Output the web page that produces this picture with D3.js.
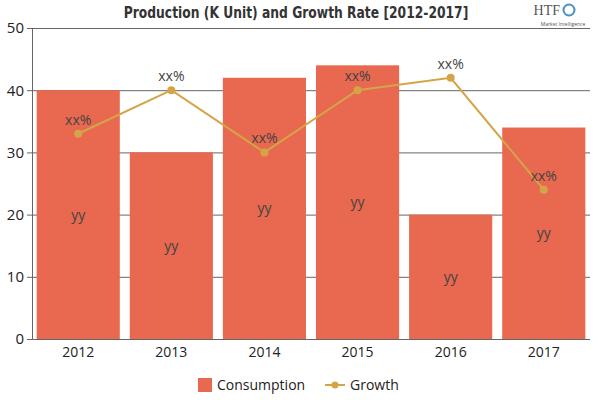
<!DOCTYPE html>
<html>
<head>
<meta charset="utf-8">
<style>
  body { margin: 0; background: #fff; }
  svg text { font-family: "Open Sans", "DejaVu Sans", sans-serif; }
</style>
</head>
<body>
<svg width="600" height="400"></svg>
<script src="https://d3js.org/d3.v7.min.js"></script>
<script>
// chart data
var years = ["2012", "2013", "2014", "2015", "2016", "2017"];
var consumption = [40, 30, 42, 44, 20, 34];
var growth = [33, 40, 30, 40, 42, 24];
var barLabels = ["yy", "yy", "yy", "yy", "yy", "yy"];
var growthLabels = ["xx%", "xx%", "xx%", "xx%", "xx%", "xx%"];
var yTicks = [0, 10, 20, 30, 40, 50];

var svg = d3.select("svg"),
    margin = {top: 28, right: 10, bottom: 61, left: 32},
    width = 600 - margin.left - margin.right,
    height = 400 - margin.top - margin.bottom,
    g = svg.append("g").attr("transform", "translate(" + margin.left + "," + margin.top + ")");

var barColor = "#e8694f", lineColor = "#d4a548";

var x = d3.scaleBand().domain(years).range([0, width]).paddingInner(0.107).paddingOuter(0.05);
var y = d3.scaleLinear().domain([0, 50]).range([height, 0]);

// gridlines
g.selectAll(".grid").data(yTicks.slice(1)).enter().append("line")
    .attr("x1", 0).attr("x2", width)
    .attr("y1", function(d) { return y(d) + 0.5; })
    .attr("y2", function(d) { return y(d) + 0.5; })
    .attr("stroke", "#666").attr("stroke-width", 1);

// bars
g.selectAll(".bar").data(consumption).enter().append("rect")
    .attr("x", function(d, i) { return x(years[i]); })
    .attr("y", function(d) { return y(d); })
    .attr("width", x.bandwidth())
    .attr("height", function(d) { return height - y(d); })
    .attr("fill", barColor);

// bar labels
g.selectAll(".blab").data(consumption).enter().append("text")
    .attr("x", function(d, i) { return x(years[i]) + x.bandwidth() / 2; })
    .attr("y", function(d) { return (y(d) + height) / 2 + 5; })
    .attr("text-anchor", "middle")
    .attr("font-size", 14).attr("fill", "#444")
    .text(function(d, i) { return barLabels[i]; });

// axes
var yAxis = g.append("g").call(d3.axisLeft(y).tickValues(yTicks).tickSize(5).tickPadding(3));
yAxis.select(".domain").attr("stroke", "#666").attr("d", "M-5,0.5H0.5V" + (height + 0.5));
yAxis.selectAll(".tick line").attr("stroke", "#666");
yAxis.selectAll("text").attr("font-size", 15).attr("fill", "#222")
    .attr("font-family", "'Open Sans', sans-serif");

var xAxis = g.append("g").attr("transform", "translate(0," + height + ")")
    .call(d3.axisBottom(x).tickSize(0).tickPadding(8));
xAxis.select(".domain").attr("stroke", "#666").attr("d", "M0,0.5H" + width);
xAxis.selectAll("text").attr("font-size", 14).attr("fill", "#222")
    .attr("font-family", "'Open Sans', sans-serif");

// growth line
var line = d3.line()
    .x(function(d, i) { return x(years[i]) + x.bandwidth() / 2; })
    .y(function(d) { return y(d); });
g.append("path").datum(growth)
    .attr("d", line).attr("fill", "none")
    .attr("stroke", lineColor).attr("stroke-width", 2);
g.selectAll(".dot").data(growth).enter().append("circle")
    .attr("cx", function(d, i) { return x(years[i]) + x.bandwidth() / 2; })
    .attr("cy", function(d) { return y(d); })
    .attr("r", 4).attr("fill", lineColor);
g.selectAll(".glab").data(growth).enter().append("text")
    .attr("x", function(d, i) { return x(years[i]) + x.bandwidth() / 2; })
    .attr("y", function(d) { return y(d) - 9; })
    .attr("text-anchor", "middle")
    .attr("font-size", 14).attr("fill", "#444")
    .text(function(d, i) { return growthLabels[i]; });

// title (condensed by a horizontal scale)
svg.append("g").attr("transform", "translate(296,18) scale(0.77,1)")
  .append("text")
    .attr("x", 0).attr("y", 0)
    .attr("text-anchor", "middle")
    .attr("font-weight", "bold").attr("font-size", 16).attr("fill", "#333")
    .style("font-family", "'DejaVu Sans', sans-serif")
    .text("Production (K Unit) and Growth Rate [2012-2017]");

// logo
var logo = svg.append("g").attr("transform", "translate(560,0)");
logo.append("text").attr("x", 0).attr("y", 15).attr("text-anchor", "end")
    .style("font-family", "'Liberation Serif', serif").attr("font-size", 14).attr("fill", "#555").text("HTF");
logo.append("circle").attr("cx", 9).attr("cy", 10).attr("r", 5.5).attr("fill", "none")
    .attr("stroke", "#4a90c0").attr("stroke-width", 2);
logo.append("text").attr("x", 3).attr("y", 25.5).attr("text-anchor", "middle")
    .attr("font-size", 5).attr("fill", "#555").text("Market Intelligence");

// legend
var leg = svg.append("g").attr("transform", "translate(198,378)");
leg.append("rect").attr("x", 0).attr("y", 0).attr("width", 14).attr("height", 14).attr("fill", barColor);
leg.append("text").attr("x", 19).attr("y", 12).attr("font-size", 14).attr("fill", "#222")
    .style("font-family", "'Open Sans', sans-serif").text("Consumption");
leg.append("line").attr("x1", 127).attr("x2", 147).attr("y1", 7).attr("y2", 7)
    .attr("stroke", lineColor).attr("stroke-width", 2);
leg.append("circle").attr("cx", 137).attr("cy", 7).attr("r", 3.5).attr("fill", lineColor);
leg.append("text").attr("x", 152).attr("y", 12).attr("font-size", 14).attr("fill", "#222")
    .style("font-family", "'Open Sans', sans-serif").text("Growth");
</script>
</body>
</html>
